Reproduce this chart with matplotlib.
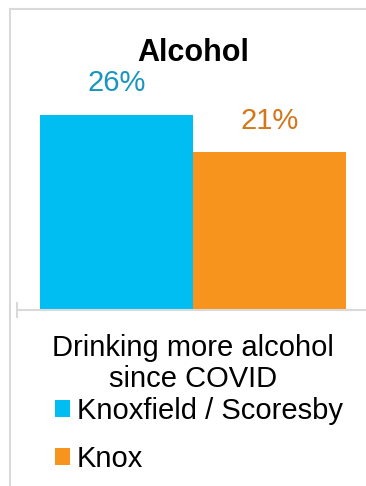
import matplotlib
matplotlib.use('Agg')
import matplotlib.pyplot as plt
from matplotlib.patches import Patch, Rectangle

# data
series = ['Knoxfield / Scoresby', 'Knox']
values = [26, 21]
category = 'Drinking more alcohol\nsince COVID'
title = 'Alcohol'

bar_colors = ['#00BEF2', '#F7941D']
label_colors = ['#1A95BF', '#D4771B']
grid_grey = '#D9D9D9'

plt.rcParams['font.family'] = ['Liberation Sans', 'DejaVu Sans']

W, H = 366, 486
fig = plt.figure(figsize=(W / 100, H / 100), dpi=100)

# light grey outer frame (left and top edges visible)
fig.add_artist(Rectangle((10 / W, -0.1), 1.2, (H - 9) / H + 0.1,
                         transform=fig.transFigure, fill=False,
                         edgecolor=grid_grey, linewidth=1.5))

# plot area: baseline at y=310px, 0..30 % spans 225 px
ax = fig.add_axes([17 / W, (H - 310) / H, (W - 17) / W, 225 / H])
xs = range(len(values))
ax.bar(xs, values, width=1.0, color=bar_colors)
ax.set_xlim(-0.65, 1.63)
ax.set_ylim(0, 30)

for x, v, c in zip(xs, values, label_colors):
    ax.annotate(f'{v}%', (x, v), xytext=(0, 23), textcoords='offset points',
                ha='center', va='center', fontsize=21, color=c,
                annotation_clip=False)

for s in ['top', 'right', 'left']:
    ax.spines[s].set_visible(False)
ax.spines['bottom'].set_color(grid_grey)
ax.spines['bottom'].set_linewidth(1.5)
ax.set_yticks([])
ax.set_xticks([-0.65])
ax.set_xticklabels([''])
ax.tick_params(axis='x', direction='inout', length=11.5, width=1.5,
               color=grid_grey)

fig.text(193 / W, (H - 61) / H, title, ha='center', va='baseline',
         fontsize=22, fontweight='bold')

fig.text(193 / W, (H - 334) / H, category, ha='center', va='top',
         fontsize=21, linespacing=1.15)

handles = [Patch(facecolor=c, edgecolor='none') for c in bar_colors]
fig.legend(handles, series, loc='upper left',
           bbox_to_anchor=(55 / W, (H - 397) / H),
           frameon=False, fontsize=21, borderpad=0, borderaxespad=0,
           handlelength=0.5, handleheight=0.5, handletextpad=0.25,
           labelspacing=0.68)

fig.savefig('out.png', dpi=100)
